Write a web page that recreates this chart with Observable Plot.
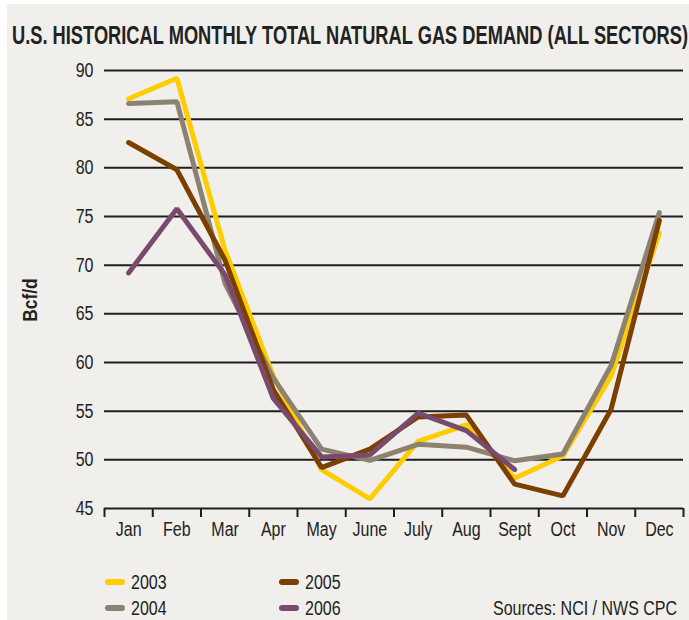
<!DOCTYPE html>
<html>
<head>
<meta charset="utf-8">
<script src="https://cdn.jsdelivr.net/npm/d3@7"></script>
<script src="https://cdn.jsdelivr.net/npm/@observablehq/plot@0.6"></script>
<style>
  html, body { margin: 0; padding: 0; background: #ffffff; }
  #page { position: relative; width: 689px; height: 620px; overflow: hidden; background: #ffffff; }
  #panel { position: absolute; left: 7px; top: 4px; width: 682px; height: 616px; background: #f0efeb; }
  #title { position: absolute; left: 12px; top: 20px; white-space: nowrap; transform-origin: 0 50%;
    font-family: 'Liberation Sans', Arial, sans-serif; font-weight: bold; font-size: 25px; color: #222; line-height: 30px; }
  #ylab { position: absolute; left: 30px; top: 300px; white-space: nowrap;
    transform: translate(-50%, -50%) rotate(-90deg) scaleX(0.87);
    font-family: 'Liberation Sans', Arial, sans-serif; font-weight: bold; font-size: 20px; color: #222; line-height: 22px; }
  #chart { position: absolute; left: 0; top: 0; }
  .lg { position: absolute; font-family: 'Liberation Sans', Arial, sans-serif; font-size: 20px; color: #222; line-height: 24px; white-space: nowrap; }
  .sw { position: absolute; height: 6px; border-radius: 3px; }
</style>
</head>
<body>
<div id="page">
  <div id="panel"></div>
  <div id="title">U.S. HISTORICAL MONTHLY TOTAL NATURAL GAS DEMAND (ALL SECTORS)</div>
  <div id="chart"></div>
  <div id="ylab"></div>
  <div id="legend"></div>
</div>
<script>
const months = ["Jan","Feb","Mar","Apr","May","June","July","Aug","Sept","Oct","Nov","Dec"];
const years = ["2003","2004","2005","2006"];
const colors = ["#ffcc00","#8c8272","#7b3f00","#7a4a6e"];
const yTicks = [45,50,55,60,65,70,75,80,85,90];
const d2003 = [87.1, 89.2, 71.5, 58.6, 49.0, 46.0, 51.9, 53.6, 48.1, 50.4, 58.6, 73.3];
const d2004 = [86.6, 86.8, 68.1, 58.4, 51.1, 49.95, 51.6, 51.3, 49.9, 50.6, 59.7, 75.4];
const d2005 = [82.6, 79.8, 70.5, 57.2, 49.2, 51.1, 54.4, 54.6, 47.5, 46.3, 55.2, 74.6];
const d2006 = [69.2, 75.8, 69.0, 56.3, 50.3, 50.5, 54.8, 53.0, 49.0];
const sourceText = "Sources: NCI / NWS CPC";
const yLabel = "Bcf/d";

const series = [d2003, d2004, d2005, d2006];
const rows = years.flatMap((yr, k) => series[k].map((v, i) => ({year: yr, i, v})));
const monthIdx = months.map((m, i) => i);
const bounds = months.map((m, i) => i - 0.5).concat([months.length - 0.5]);

const font = "'Liberation Sans', Arial, sans-serif";
const narrow = 0.8;

const chart = Plot.plot({
  width: 689,
  height: 560,
  marginLeft: 104,
  marginRight: 6,
  marginTop: 70,
  marginBottom: 52,
  style: {background: "transparent", fontFamily: font, fontSize: "20px", color: "#222"},
  x: {type: "linear", domain: [-0.5, months.length - 0.5]},
  y: {domain: [45, 90]},
  color: {domain: years, range: colors},
  marks: [
    Plot.ruleY(yTicks.filter(t => t > 45), {stroke: "#1e1e1e", strokeWidth: 2}),
    Plot.axisY({ticks: yTicks, tickSize: 0, tickPadding: 11, label: null, fontSize: 20}),
    Plot.axisX({ticks: monthIdx, tickFormat: i => months[i], tickSize: 0, tickPadding: 13, label: null, fontSize: 20}),
    Plot.axisX({ticks: bounds, tickFormat: () => "", tickSize: 9, label: null, stroke: "#1e1e1e", strokeWidth: 2}),
    Plot.ruleY([45], {stroke: "#1e1e1e", strokeWidth: 2.2}),
    Plot.line(rows, {x: "i", y: "v", z: "year", stroke: "year", strokeWidth: 5, strokeLinejoin: "miter", strokeLinecap: "round"})
  ]
});
document.getElementById("chart").appendChild(chart);

// condense SVG texts to mimic a narrow typeface
chart.querySelectorAll("text").forEach(t => {
  const L = t.getComputedTextLength();
  if (L > 0) {
    t.setAttribute("textLength", (L * narrow).toFixed(2));
    t.setAttribute("lengthAdjust", "spacingAndGlyphs");
  }
});

document.getElementById("ylab").textContent = yLabel;

// fit title width
const title = document.getElementById("title");
const tw = title.getBoundingClientRect().width;
title.style.transform = `scaleX(${676 / tw})`;

// legend
const legend = document.getElementById("legend");
const pos = [[105, 582], [105, 608], [279, 582], [279, 608]];
years.forEach((yr, k) => {
  const [x, y] = pos[k];
  const sw = document.createElement("div");
  sw.className = "sw";
  sw.style.left = x + "px"; sw.style.top = (y - 3) + "px"; sw.style.width = "20px";
  sw.style.background = colors[k];
  legend.appendChild(sw);
  const t = document.createElement("div");
  t.className = "lg";
  t.style.left = (x + 26) + "px"; t.style.top = (y - 12) + "px";
  t.style.transformOrigin = "0 50%";
  t.style.transform = `scaleX(${narrow})`;
  t.textContent = yr;
  legend.appendChild(t);
});
const src = document.createElement("div");
src.className = "lg";
src.style.right = (689 - 677) + "px"; src.style.top = (608 - 12) + "px";
src.style.transformOrigin = "100% 50%";
src.style.transform = `scaleX(${narrow})`;
src.textContent = sourceText;
legend.appendChild(src);
</script>
</body>
</html>
